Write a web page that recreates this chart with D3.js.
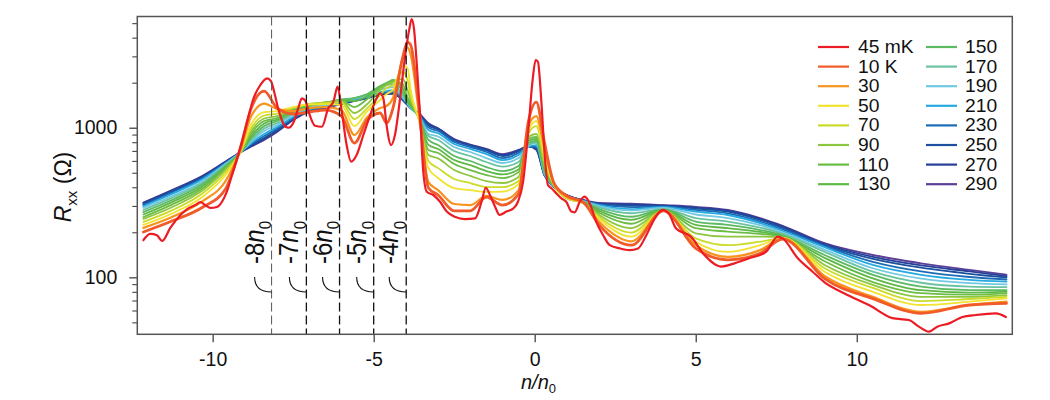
<!DOCTYPE html>
<html><head><meta charset="utf-8">
<script src="https://cdn.jsdelivr.net/npm/d3@7"></script>
<style>
html,body{margin:0;padding:0;background:#fff;}
svg{display:block;font-family:"Liberation Sans",Arial,Helvetica,sans-serif;}
</style></head><body>
<svg id="chart" width="1050" height="400"></svg>
<script>
// ---------- data ----------
const temps = ["45 mK","10 K","30","50","70","90","110","130","150","170","190","210","230","250","270","290"];

// n/n0 sample points for the 45 mK trace
const n45mK = [-12.15,-11.94,-11.73,-11.57,-11.32,-11.0,-10.8,-10.54,-10.38,-10.23,
 -10.07,-9.87,-9.71,-9.56,-9.4,-9.24,-9.09,-8.93,-8.73,-8.52,
 -8.31,-8.19,-8.09,-7.98,-7.87,-7.74,-7.64,-7.48,-7.33,-7.23,
 -7.12,-7.02,-6.82,-6.61,-6.41,-6.25,-6.12,-5.99,-5.84,-5.7,
 -5.53,-5.32,-5.11,-4.91,-4.8,-4.7,-4.6,-4.46,-4.34,-4.18,
 -4.02,-3.89,-3.82,-3.75,-3.66,-3.56,-3.46,-3.35,-3.15,-2.94,
 -2.73,-2.48,-2.17,-1.85,-1.65,-1.52,-1.39,-1.23,-1.09,-0.88,
 -0.67,-0.52,-0.36,-0.21,-0.07,0.03,0.1,0.2,0.31,0.41,
 0.52,0.67,0.83,0.98,1.14,1.24,1.4,1.55,1.71,1.91,
 2.12,2.33,2.64,2.95,3.21,3.47,3.73,3.98,4.19,4.39,
 4.85,5.27,5.79,6.2,6.66,7.18,7.55,7.7,8.17,8.63,
 8.99,9.62,10.38,11.11,11.62,11.93,12.24,12.5,12.87,13.28,
 13.7,14.32,14.63];
const r45mK = [177,195,191,175,213,261,285,304,318,304,
 291,295,320,374,483,624,806,1097,1572,1930,
 2140,2050,1740,1380,1155,1015,1000,1097,1380,1572,
 1510,1280,1030,1015,1348,1493,1880,1280,766,593,
 657,894,1216,1572,1700,1572,1042,766,894,1572,
 3060,4610,5320,4610,2625,1216,508,373,355,320,
 275,254,245,248,320,397,355,296,261,275,
 288,320,436,894,2030,2835,2760,1572,657,414,
 394,364,337,320,275,272,320,346,312,235,
 192,164,156,152,156,192,248,282,261,212,
 187,141,118,124,134,148,187,182,134,109,
 93,78,65.3,53.4,51.8,46.8,43.3,46.8,49.2,54.3,
 56,57.4,54.3];

// shared n/n0 sample points for the 10 K ... 290 K traces
const nGrid = [-12.15,-11.3,-10.3,-9.6,-9.15,-8.8,-8.4,-8.0,-7.5,-7.0,
 -6.5,-6.0,-5.6,-5.2,-4.8,-4.6,-4.4,-4.1,-3.95,-3.85,
 -3.6,-3.3,-3.0,-2.5,-2.0,-1.5,-1.0,-0.5,-0.2,0.05,
 0.3,0.6,1.0,1.5,2.0,3.0,4.0,5.0,6.0,7.0,
 7.7,9.0,10.5,12.0,13.5,14.65];

const r10K = [201,236,295,389,721,1354,1759,1354,1235,1273,
 1313,1197,790,1126,1254,1075,1354,2950,3740,3570,
 1418,395,355,278,278,344,304,361,1092,1485,
 803,427,350,319,224,164,278,156,131,145,
 180,98,72,57.5,65.3,67];
const r30 = [214,251,324,440,699,1197,1451,1333,1293,1354,
 1375,1313,894,1179,1354,1396,1580,2900,3440,3062,
 1273,433,383,309,304,350,329,383,1026,1197,
 732,420,344,316,235,174,278,164,137,152,
 182,102,74,58.8,65.3,68.7];
const r50 = [224,265,347,483,683,1058,1273,1293,1375,1429,
 1440,1418,1026,1293,1532,1680,1786,2600,2520,1786,
 1126,537,461,395,383,372,374,420,950,1109,
 657,414,339,314,246,187,278,173,148,164,
 183,109,80,65.3,68.7,72.3];
const r70 = [235,278,366,505,678,995,1207,1244,1364,1440,
 1462,1474,1144,1354,1654,1842,1929,2367,2084,1629,
 1144,599,537,454,427,401,401,440,908,1026,
 608,412,337,314,253,199,278,182,164,173,
 183,115,85,69.4,71.6,74];
const r90 = [246,292,383,525,678,950,1152,1197,1344,1440,
 1474,1509,1254,1440,1786,1929,2021,2120,1786,1532,
 1152,657,624,521,476,440,427,468,867,908,
 563,411,336,314,261,213,278,197,187,187,
 185,121,89,74,74,76];
const r110 = [253,304,395,537,678,915,1109,1161,1323,1429,
 1474,1520,1375,1556,1856,1974,2068,1960,1604,1462,
 1161,710,678,572,521,483,461,505,841,867,
 546,410,338,315,270,228,280,213,202,195,
 186,128,93,78.4,76.6,78.4];
const r130 = [263,316,408,546,678,880,1066,1135,1303,1418,
 1470,1532,1509,1629,1885,1989,2084,1840,1532,1418,
 1170,766,721,608,563,513,487,525,815,841,
 529,409,340,318,278,242,282,224,213,201,
 188,135,98.5,82,79.1,80.2];
const r150 = [273,326,420,554,678,854,1026,1109,1273,1407,
 1462,1544,1580,1680,1900,1989,2052,1732,1475,1396,
 1179,828,766,647,599,546,513,554,791,815,
 513,408,342,319,286,254,284,236,224,207,
 191,141,104,86.7,82,82];
const r170 = [282,337,430,563,678,828,988,1075,1244,1386,
 1440,1532,1580,1667,1856,1929,1959,1654,1462,1375,
 1192,880,828,699,647,590,550,590,766,803,
 505,406,344,321,293,268,286,249,236,215,
 195,148,109,92,86.7,86];
const r190 = [291,347,440,572,680,809,950,1042,1216,1354,
 1418,1509,1568,1641,1800,1842,1870,1604,1450,1364,
 1205,908,874,743,688,627,581,627,754,791,
 498,405,347,323,299,280,291,263,249,223,
 199,153,115,98,91.4,89.7];
const r210 = [299,358,454,576,682,791,908,1010,1179,1333,
 1396,1485,1544,1616,1732,1759,1786,1580,1440,1354,
 1216,965,918,779,721,667,608,657,749,766,
 490,404,350,324,304,286,295,275,261,230,
 204,159,121,104,96,93.5];
const r230 = [304,366,461,581,683,779,880,987,1161,1313,
 1386,1474,1532,1604,1705,1732,1732,1556,1430,1354,
 1225,1003,950,803,743,688,627,678,751,743,
 487,403,352,326,306,295,297,282,268,236,
 209,161.5,127,109.5,100.5,96.7];
const r250 = [309,372,468,585,683,766,854,965,1144,1303,
 1375,1462,1520,1591,1680,1705,1705,1544,1424,1354,
 1235,1034,972,822,760,705,647,694,752,732,
 483,402,353,327,309,302,299,288,275,242,
 214,164,133,116,105.6,99.7];
const r270 = [314,377,476,590,683,754,841,950,1135,1293,
 1364,1451,1509,1580,1667,1692,1692,1532,1420,1354,
 1244,1058,987,834,766,716,657,705,754,721,
 483,401,354,328,311,307,302,292,279,246,
 218,167,137,120,109.5,102];
const r290 = [316,380,479,594,683,749,828,936,1126,1283,
 1354,1440,1509,1580,1654,1680,1687,1532,1418,1354,
 1254,1070,990,841,772,721,667,710,754,710,
 483,401,355,329,314,311,304,296,282,249,
 221,169,141,124,112,104];

const markerN = [-8.17,-7.09,-6.06,-5.0,-3.99];
const markerLabels = ["-8","-7","-6","-5","-4"];
const xTicks = [-10,-5,0,5,10];
const yMajor = [100,1000];
const yMinor = [50,60,70,80,90,200,300,400,500,600,700,800,900,2000,3000,4000,5000];

// ---------- styles ----------
const colors = ["#ec1c24","#f15a29","#f7941d","#f2e32e","#cadb2a","#8dc63f","#6bbd45","#5fb846",
                "#5cba62","#6cc3a2","#71c9e2","#27a9e1","#1c6bb6","#1c4f9e","#263f98","#5c3f97"];
const widths = [2.2,2.8,2.2,1.8,1.8,1.8,1.8,1.8,1.8,1.8,1.8,1.8,1.8,1.8,1.8,1.8];

const seriesData = [
  [n45mK, r45mK],[nGrid, r10K],[nGrid, r30],[nGrid, r50],[nGrid, r70],[nGrid, r90],
  [nGrid, r110],[nGrid, r130],[nGrid, r150],[nGrid, r170],[nGrid, r190],[nGrid, r210],
  [nGrid, r230],[nGrid, r250],[nGrid, r270],[nGrid, r290]
].map(([ns, rs], i) => ({label: temps[i], pts: ns.map((n, k) => [n, rs[k]])}));

// ---------- drawing ----------
const svg = d3.select("#chart");
const L = 137.3, R = 1012.3, T = 16.5, B = 334.3;
const x = d3.scaleLinear().domain([-12.34, 14.83]).range([L, R]);
const y = d3.scaleLog().domain([41.6, 5540]).range([B, T]);

svg.append("rect").attr("width",1050).attr("height",400).attr("fill","#fff");
svg.append("defs").append("clipPath").attr("id","plotClip").append("rect")
  .attr("x",L).attr("y",T).attr("width",R-L).attr("height",B-T);

const line = d3.line().x(d => x(d[0])).y(d => y(d[1])).curve(d3.curveMonotoneX);
const gC = svg.append("g").attr("clip-path","url(#plotClip)");
for (let i = seriesData.length - 1; i >= 0; i--) {
  gC.append("path").datum(seriesData[i].pts)
    .attr("d", line).attr("fill","none")
    .attr("stroke", colors[i]).attr("stroke-width", widths[i])
    .attr("stroke-linejoin","round").attr("stroke-linecap","round");
}

// dashed markers with labels
const mk = svg.append("g");
markerN.forEach((n, i) => {
  const xl = x(n);
  mk.append("line").attr("x1",xl).attr("x2",xl).attr("y1",T).attr("y2",B)
    .attr("stroke", i === 0 ? "#555" : "#111").attr("stroke-width", i === 0 ? 1 : 1.3)
    .attr("stroke-dasharray","9,4");
  mk.append("path").attr("d", `M${xl-17},277 Q${xl-17},292 ${xl},292`)
    .attr("fill","none").attr("stroke","#111").attr("stroke-width",1.1);
  const t = mk.append("text").attr("transform", `translate(${xl-8},264) scale(1.12,1) rotate(-90)`)
    .attr("font-size",24).attr("fill","#111");
  t.append("tspan").text(markerLabels[i]);
  t.append("tspan").attr("font-style","italic").text("n");
  t.append("tspan").attr("font-size",15).attr("dy",7).text("0");
});

// axes
const fontFam = '"Liberation Sans",Arial,Helvetica,sans-serif';
const gx = svg.append("g").attr("transform", `translate(0,${B})`)
  .call(d3.axisBottom(x).tickValues(xTicks).tickSize(8).tickPadding(10).tickFormat(d => String(d)));
gx.attr("font-size",19.5).attr("font-family",fontFam);
gx.select(".domain").remove();
gx.selectAll("line").attr("stroke","#444").attr("stroke-width",1.3);
gx.selectAll("text").attr("fill","#111");

const gy = svg.append("g").attr("transform", `translate(${L},0)`)
  .call(d3.axisLeft(y).tickValues(yMajor).tickSize(8).tickPadding(12).tickFormat(d => String(d)));
gy.attr("font-size",19.5).attr("font-family",fontFam);
gy.select(".domain").remove();
gy.selectAll("line").attr("stroke","#444").attr("stroke-width",1.3);
gy.selectAll("text").attr("fill","#111");

const gym = svg.append("g").attr("transform", `translate(${L},0)`)
  .call(d3.axisLeft(y).tickValues(yMinor).tickSize(5).tickFormat(""));
gym.select(".domain").remove();
gym.selectAll("line").attr("stroke","#444").attr("stroke-width",1.1);

// frame
svg.append("rect").attr("x",L).attr("y",T).attr("width",R-L).attr("height",B-T)
  .attr("fill","none").attr("stroke","#555").attr("stroke-width",1.5);

// axis titles
const xt = svg.append("text").attr("x",521).attr("y",389).attr("font-size",20).attr("fill","#111");
xt.append("tspan").attr("font-style","italic").text("n/n");
xt.append("tspan").attr("font-size",13).attr("dy",4).text("0");

const yt = svg.append("text").attr("transform","translate(71,187) rotate(-90)")
  .attr("text-anchor","middle").attr("font-size",23).attr("fill","#111");
yt.append("tspan").attr("font-style","italic").text("R");
yt.append("tspan").attr("font-size",15).attr("dy",6).text("xx");
yt.append("tspan").attr("dy",-6).text(" (Ω)");

// legend
const legCols = [{lx:818, tx:858}, {lx:926, tx:965}];
const lg = svg.append("g");
temps.forEach((lab, i) => {
  const c = legCols[Math.floor(i / 8)];
  const ly = 47 + 19.6 * (i % 8);
  lg.append("line").attr("x1",c.lx).attr("x2",c.lx + 31).attr("y1",ly).attr("y2",ly)
    .attr("stroke",colors[i]).attr("stroke-width",2.2);
  lg.append("text").attr("transform", `translate(${c.tx},${ly + 6}) scale(1.1,1)`)
    .attr("font-size",17.5).attr("fill","#111").text(lab);
});
</script>
</body></html>
